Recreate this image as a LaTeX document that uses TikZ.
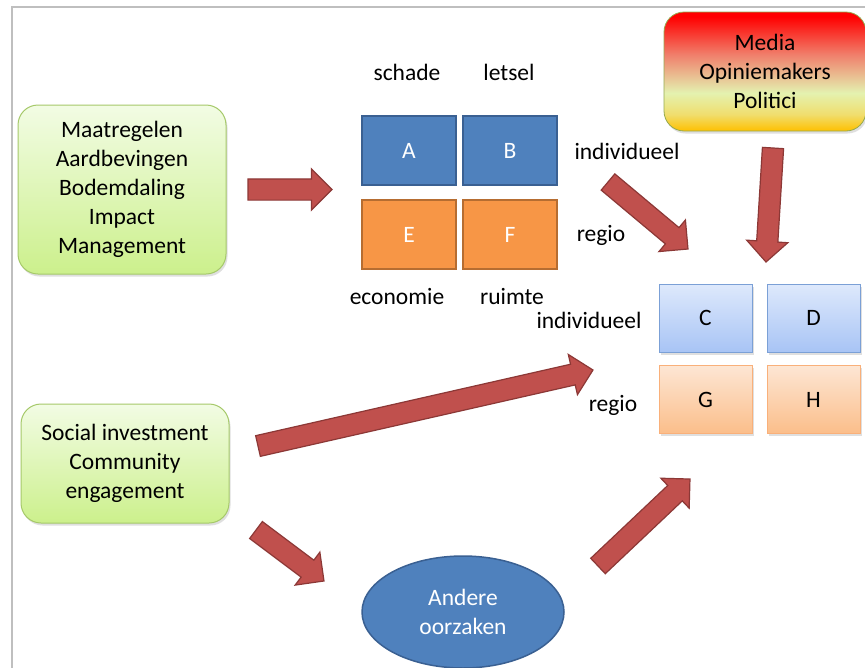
\documentclass[tikz,border=0pt]{standalone}
\usepackage{fontspec}
\setmainfont{Carlito}
\usetikzlibrary{shapes.geometric,shapes.arrows,calc,shadows}

\definecolor{arrfill}{RGB}{192,80,77}
\definecolor{arrdraw}{RGB}{140,56,54}
\definecolor{framegray}{RGB}{191,191,191}
\definecolor{gtop}{RGB}{242,252,228}
\definecolor{gbot}{RGB}{204,240,140}
\definecolor{gborder}{RGB}{166,201,106}
\definecolor{dblue}{RGB}{79,129,189}
\definecolor{dblueb}{RGB}{58,96,146}
\definecolor{dorange}{RGB}{247,150,70}
\definecolor{doranged}{RGB}{182,109,49}
\definecolor{lbtop}{RGB}{222,233,252}
\definecolor{lbbot}{RGB}{168,196,245}
\definecolor{lbborder}{RGB}{123,160,214}
\definecolor{lotop}{RGB}{253,230,212}
\definecolor{lobot}{RGB}{251,190,138}
\definecolor{loborder}{RGB}{249,176,122}
\definecolor{mgold}{RGB}{255,192,0}
\definecolor{myel}{RGB}{240,222,110}
\definecolor{mlight}{RGB}{228,242,176}
\definecolor{msalmon}{RGB}{240,128,108}
\definecolor{mred}{RGB}{255,0,0}
\definecolor{mborder}{RGB}{150,170,80}

\pgfdeclareverticalshading{mediashade}{100bp}{color(0bp)=(mgold); color(25bp)=(mgold); color(32bp)=(myel); color(41bp)=(mlight); color(57bp)=(msalmon); color(73bp)=(mred); color(100bp)=(mred)}

\tikzset{
  txt/.style={font=\fontsize{23.5}{29}\selectfont, align=center, inner sep=0pt},
  shd/.style={drop shadow={opacity=0.25, shadow xshift=1.5pt, shadow yshift=-2.5pt}},
  greenbox/.style={txt, rounded corners=20pt, draw=gborder, line width=1pt, top color=gtop, bottom color=gbot, shd},
  darkbox/.style={txt, text=white, minimum width=94pt, minimum height=69pt, line width=1.5pt},
  bluebox/.style={darkbox, fill=dblue, draw=dblueb},
  orangebox/.style={darkbox, fill=dorange, draw=doranged},
  lightbox/.style={txt, minimum width=93pt, minimum height=68pt, line width=1pt, shd},
  lblue/.style={lightbox, top color=lbtop, bottom color=lbbot, draw=lbborder},
  lorange/.style={lightbox, top color=lotop, bottom color=lobot, draw=loborder},
  barrow/.style={single arrow, draw=arrdraw, fill=arrfill, line width=1.2pt,
    inner sep=0pt, inner ysep=10pt, outer sep=0pt, single arrow head extend=10pt,
    single arrow tip angle=90},
}

\newcommand\blockarrow[2]{%
  \path let \p1=($(#2)-(#1)$), \n1={veclen(\x1,\y1)}, \n2={atan2(\y1,\x1)} in
    (#1) node[barrow, minimum height=\n1, rotate=\n2, anchor=tail] {};
}

\begin{document}
\begin{tikzpicture}[x=1pt,y=-1pt]
\useasboundingbox (0,0) rectangle (865,667);
\fill[white] (0,0) rectangle (865,667);
\draw[framegray, line width=2pt] (12,672) -- (12,7) -- (870,7);

% left green boxes
\node[greenbox, minimum width=208pt, minimum height=169pt] (maat) at (122,189.5)
  {Maatregelen\\Aardbevingen\\Bodemdaling\\Impact\\Management};
\node[greenbox, minimum width=208pt, minimum height=119pt] (social) at (125,463.5)
  {Social investment\\Community\\engagement};

% media box
\node[txt, rounded corners=20pt, draw=mborder, line width=0.8pt, shading=mediashade, shd,
  minimum width=202pt, minimum height=119pt] (media) at (765,71.5)
  {Media\\Opiniemakers\\Politici};

% A B E F
\node[bluebox] (A) at (409,150.5) {A};
\node[bluebox] (B) at (510,150.5) {B};
\node[orangebox] (E) at (409,234.5) {E};
\node[orangebox] (F) at (510,234.5) {F};

\node[txt] (schade) at (407,72) {schade};
\node[txt] (letsel) at (509,72) {letsel};
\node[txt] (econ) at (397,296) {economie};
\node[txt] (ruimte) at (512,296) {ruimte};
\node[txt] (ind1) at (627,151) {individueel};
\node[txt] (reg1) at (601,235) {regio};

% C D G H
\node[lblue] (C) at (705.5,318) {C};
\node[lblue] (D) at (813.5,318) {D};
\node[lorange] (G) at (705.5,399.5) {G};
\node[lorange] (H) at (813.5,399.5) {H};
\node[txt] (ind2) at (589,320) {individueel};
\node[txt] (reg2) at (613,405) {regio};

% ellipse
\node[ellipse, txt, text=white, fill=dblue, draw=dblueb, line width=1.5pt,
  minimum width=202pt, minimum height=112pt] (andere) at (463,612) {Andere\\oorzaken};

% arrow end points
\coordinate (a1s) at (248,189.5); \coordinate (a1e) at (332,189.5);
\coordinate (a2s) at (608,182);   \coordinate (a2e) at (688,249);
\coordinate (a3s) at (773,148);   \coordinate (a3e) at (766,262);
\coordinate (a4s) at (258,446);   \coordinate (a4e) at (593,370);
\coordinate (a5s) at (256,530);   \coordinate (a5e) at (324,581);
\coordinate (a6s) at (598,566);   \coordinate (a6e) at (690,479);

\blockarrow{a1s}{a1e}
\blockarrow{a2s}{a2e}
\blockarrow{a3s}{a3e}
\blockarrow{a4s}{a4e}
\blockarrow{a5s}{a5e}
\blockarrow{a6s}{a6e}
\end{tikzpicture}
\end{document}
